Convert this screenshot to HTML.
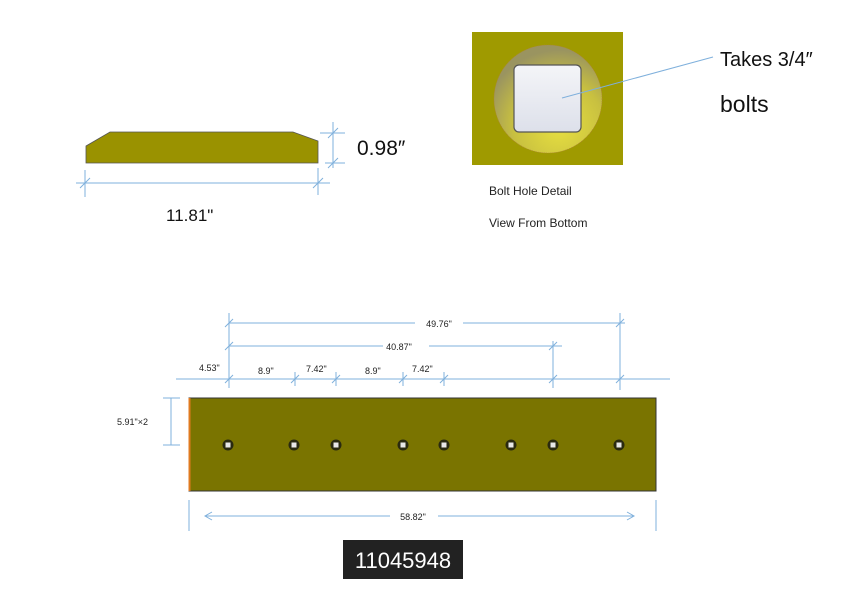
<!DOCTYPE html>
<html><head><style>body{margin:0;background:#fff}svg{display:block}</style></head><body>
<svg width="849" height="600" viewBox="0 0 849 600" xmlns="http://www.w3.org/2000/svg" font-family="Liberation Sans, sans-serif">
<defs>
<radialGradient id="rg" cx="0.6" cy="0.75" r="0.7"><stop offset="0" stop-color="#e8e040"/><stop offset="0.6" stop-color="#c8c040"/><stop offset="1" stop-color="#9a9460"/></radialGradient>
<linearGradient id="sq" x1="0" y1="0" x2="0" y2="1"><stop offset="0" stop-color="#f4f5f8"/><stop offset="1" stop-color="#dde0ea"/></linearGradient>
<g id="hole"><circle r="5.5" fill="#2a2a10"/><rect x="-2.5" y="-2.5" width="5" height="5" fill="#e8e8e8"/></g>
</defs>
<polygon points="86,146 110,132 293,132 318,141 318,163 86,163" fill="#9a9200" stroke="#555" stroke-width="0.8"/>
<g stroke="#7fb0dc" stroke-width="1" fill="none">
<line x1="76" y1="183" x2="330" y2="183"/>
<line x1="85" y1="170" x2="85" y2="197"/><line x1="318" y1="168" x2="318" y2="195"/>
<line x1="80" y1="188" x2="90" y2="178"/><line x1="313" y1="188" x2="323" y2="178"/>
<line x1="333" y1="122" x2="333" y2="168"/>
<line x1="320" y1="133" x2="345" y2="133"/><line x1="325" y1="163" x2="345" y2="163"/>
<line x1="328" y1="138" x2="338" y2="128"/><line x1="328" y1="168" x2="338" y2="158"/>
</g>
<text x="166" y="221" font-size="17" fill="#111">11.81"</text>
<text x="357" y="155" font-size="21" fill="#111">0.98″</text>
<rect x="472" y="32" width="151" height="133" fill="#9f9a00"/>
<circle cx="548" cy="99" r="54" fill="url(#rg)" stroke="#b08040" stroke-width="0.6" stroke-dasharray="1,1"/>
<rect x="514" y="65" width="67" height="67" rx="5" fill="url(#sq)" stroke="#555" stroke-width="1.2"/>
<line x1="562" y1="98" x2="713" y2="57" stroke="#7fb0dc" stroke-width="1"/>
<text x="720" y="66" font-size="20" fill="#111">Takes 3/4″</text>
<text x="720" y="112" font-size="23" fill="#111">bolts</text>
<text x="489" y="195" font-size="12" fill="#222">Bolt Hole Detail</text>
<text x="489" y="227" font-size="12" fill="#222">View From Bottom</text>
<g stroke="#7fb0dc" stroke-width="1" fill="none">
<line x1="176" y1="379" x2="670" y2="379"/>
<line x1="229" y1="346" x2="562" y2="346" />
<line x1="229" y1="323" x2="625" y2="323"/>
<line x1="229" y1="313" x2="229" y2="388"/>
<line x1="553" y1="341" x2="553" y2="388"/>
<line x1="620" y1="313" x2="620" y2="390"/>
<line x1="295" y1="372" x2="295" y2="386"/><line x1="336" y1="372" x2="336" y2="386"/>
<line x1="403" y1="372" x2="403" y2="386"/><line x1="444" y1="372" x2="444" y2="386"/>
<line x1="225" y1="383" x2="233" y2="375"/><line x1="291" y1="383" x2="299" y2="375"/><line x1="332" y1="383" x2="340" y2="375"/><line x1="399" y1="383" x2="407" y2="375"/><line x1="440" y1="383" x2="448" y2="375"/><line x1="549" y1="383" x2="557" y2="375"/><line x1="616" y1="383" x2="624" y2="375"/>
<line x1="225" y1="350" x2="233" y2="342"/><line x1="549" y1="350" x2="557" y2="342"/>
<line x1="225" y1="327" x2="233" y2="319"/><line x1="616" y1="327" x2="624" y2="319"/>
<line x1="171" y1="398" x2="171" y2="445"/>
<line x1="163" y1="398" x2="180" y2="398"/><line x1="163" y1="445" x2="180" y2="445"/>
<line x1="189" y1="500" x2="189" y2="531"/><line x1="656" y1="500" x2="656" y2="531"/>
<line x1="205" y1="516" x2="634" y2="516"/>
<polyline points="212,512 205,516 212,520"/><polyline points="627,512 634,516 627,520"/>
</g>
<rect x="415" y="318" width="48" height="10" fill="#fff"/>
<text x="439" y="327" font-size="9" fill="#222" text-anchor="middle">49.76"</text>
<rect x="383" y="341" width="46" height="10" fill="#fff"/>
<text x="399" y="350" font-size="9" fill="#222" text-anchor="middle">40.87"</text>
<text x="199" y="371" font-size="9" fill="#222">4.53"</text>
<text x="258" y="374" font-size="9" fill="#222">8.9"</text>
<text x="306" y="372" font-size="9" fill="#222">7.42"</text>
<text x="365" y="374" font-size="9" fill="#222">8.9"</text>
<text x="412" y="372" font-size="9" fill="#222">7.42"</text>
<text x="117" y="425" font-size="9" fill="#222">5.91"×2</text>
<rect x="390" y="511" width="48" height="10" fill="#fff"/>
<text x="413" y="520" font-size="9" fill="#222" text-anchor="middle">58.82"</text>
<rect x="189" y="398" width="467" height="93" fill="#7a7400" stroke="#333" stroke-width="1"/>
<line x1="189.5" y1="398" x2="189.5" y2="491" stroke="#e07a20" stroke-width="2"/>
<use href="#hole" x="228" y="445"/><use href="#hole" x="294" y="445"/><use href="#hole" x="336" y="445"/><use href="#hole" x="403" y="445"/><use href="#hole" x="444" y="445"/><use href="#hole" x="511" y="445"/><use href="#hole" x="553" y="445"/><use href="#hole" x="619" y="445"/>
<rect x="343" y="540" width="120" height="39" fill="#222"/>
<text x="403" y="568" font-size="22" fill="#fff" text-anchor="middle">11045948</text>
</svg>
</body></html>
